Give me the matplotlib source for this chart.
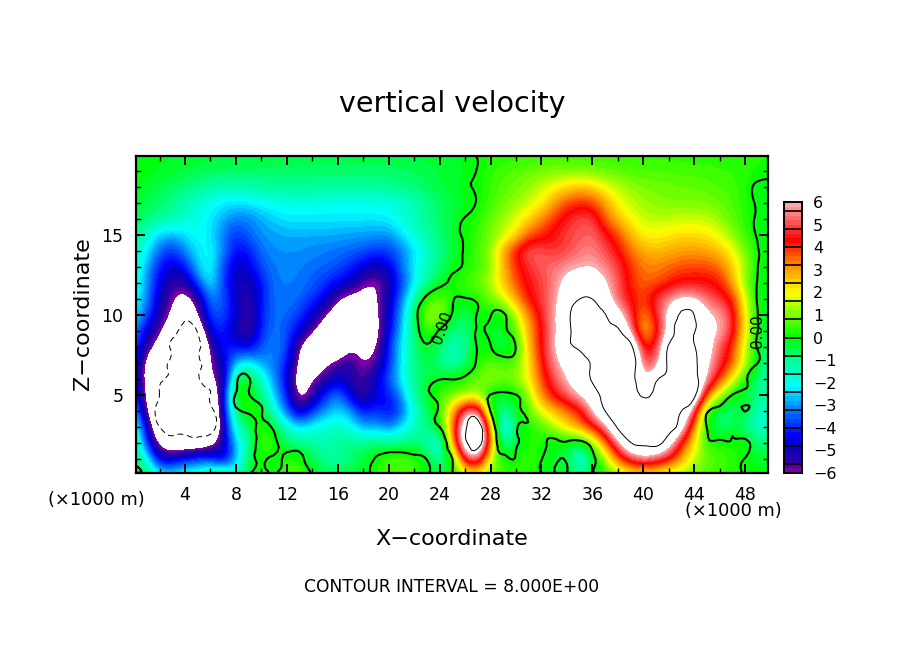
import matplotlib
matplotlib.use('Agg')
import matplotlib.pyplot as plt
import matplotlib.tri as mtri
import numpy as np
from matplotlib.colors import LinearSegmentedColormap, BoundaryNorm

# values, rows from z=20 down to z=0, columns x=0..50 km
x_km = np.arange(0, 51)
z_km = np.arange(20, -1, -1)
w_rows = [
    [-.1,-.1,-.1,-.2,-.2,-.2,-.3,-.3,-.3,-.3, -.3,-.3,-.3,-.4,-.4,-.4,-.4,-.4,-.4,-.4, -.4,-.4,-.4,-.3,-.3,-.2,-.2,.05,.2,.2, .3,.3,.4,.4,.4,.4,.4,.4,.4,.4, .3,.3,.3,.3,.3,.3,.3,.3,.2,.2, .2],
    [-.1,-.1,-.2,-.3,-.4,-.5,-.6,-.6,-.7,-.7, -.7,-.7,-.7,-.7,-.7,-.7,-.7,-.7,-.7,-.7, -.7,-.6,-.6,-.5,-.4,-.3,-.2,.05,.4,.5, .7,.8,.9,1,1,1,.9,.8,.7,.6, .6,.6,.6,.5,.5,.5,.4,.4,.3,.2, .2],
    [-.1,-.3,-.5,-.7,-.8,-1,-1.2,-1.3,-1.3,-1.2, -1.1,-1,-1,-1,-1,-1.1,-1.1,-1.1,-1.1,-1.1, -1,-.9,-.8,-.6,-.4,-.3,-.1,.1,.4,.7, .9,1.2,1.6,2,2.3,2.6,2.4,1.9,1.5,1.2, 1,.9,.9,.8,.8,.7,.6,.5,.2,-.1, -.2],
    [-.3,-.5,-.7,-1,-1.3,-1.7,-2,-2.3,-2.4,-2.3, -2.1,-2,-1.9,-1.9,-1.9,-2,-2,-2,-2,-2, -1.9,-1.7,-1.4,-1,-.7,-.5,-.2,.05,.5,.9, 1.2,1.6,2,3,3.8,4.1,3.9,3,2,1.5, 1.3,1.1,1,1,1,1,.8,.6,.3,-.1, -.3],
    [-.5,-.8,-1,-1.3,-1.6,-1.9,-2.3,-2.8,-3.2,-3.2, -2.8,-2.5,-2.3,-2.3,-2.3,-2.3,-2.3,-2.3,-2.3,-2.3, -2.2,-1.8,-1.5,-1,-.7,-.4,.05,.3,.8,1.3, 1.7,2.4,3.2,4,4.6,5,5,3.6,2.7,2, 1.5,1.5,1.5,1.6,1.6,1.5,1.2,.7,.3,-.1, -.3],
    [-.8,-1.7,-2.6,-2.7,-2.4,-2,-2.3,-3.2,-4,-3.4, -3,-2.9,-2.8,-2.8,-2.8,-2.8,-2.8,-2.9,-2.9,-3, -3,-2.4,-1.7,-1.2,-.8,-.3,.1,.4,1,1.4, 2.3,3.6,4,4.5,4.9,5.1,5.3,4.6,3.8,2.8, 2,2,2.2,2.3,2.3,2.2,1.8,1.2,.4,-.05, -.3],
    [-1.2,-2.2,-3.4,-4,-3,-2.3,-2,-3.1,-4.3,-4.2, -3.3,-3,-3,-3,-3.1,-3.2,-3.3,-3.4,-3.6,-3.8, -3.8,-3.2,-2.5,-1.6,-1,-.5,.1,.5,1.1,3, 4.4,5.3,5.1,4.7,4.9,5.4,5.6,5,4.4,3.4, 2.9,2.7,2.8,3,3,2.9,2.6,2,1,.05, -.2],
    [-1.3,-2.8,-4.2,-4.8,-4.2,-2.5,-1.9,-3.7,-4.9,-4.6, -3.6,-3.2,-3.1,-3.2,-3.3,-3.4,-3.6,-4,-4.6,-5.1, -4.7,-3.3,-2.2,-1.4,-.8,-.2,.1,.5,1,2.7, 4,4.7,5.2,5.4,5.8,5.9,6,5.6,4.9,4, 3.3,3.2,3.5,3.7,3.8,3.8,3.5,2.5,1.3,0, -.2],
    [-1.5,-3,-4.5,-5.4,-5.5,-3.6,-2,-3.8,-5,-5.2, -4.2,-3.2,-3.2,-3.2,-3.5,-3.9,-4.3,-4.8,-5.8,-6.2, -5.2,-3.8,-2.3,-1.1,-.3,.2,.6,.8,1.5,2.6, 3.7,4.5,4.8,5.6,6.4,7,7,6.2,5.2,4, 3.5,3.7,4,4.5,4.4,4.4,4.2,3,1,-.05, -.2],
    [-1.8,-3,-5,-5.9,-6.6,-5.6,-3,-3.5,-4.8,-5.6, -4.2,-3.3,-3.2,-3.4,-3.9,-4.4,-6.1,-6.5,-6.6,-6.2, -5,-3.2,-1.3,.4,1,.1,-.1,.2,.9,1.6, 3,4.3,4.9,5.6,7,8,8,6.7,5.2,4.3, 3.9,4.8,5.7,6.2,6.2,5.3,4.8,4.2,1.8,-.1, -.3],
    [-2.2,-3.5,-5.2,-6.2,-7.5,-6.1,-3.6,-3.6,-4.6,-5.7, -4,-3.3,-3.4,-3.8,-4.6,-6,-6.8,-7,-7,-6.4, -4.8,-2.8,-.6,1.4,1.3,-.1,-.8,.1,.05,-.2, 1.5,3.2,4.6,5.8,7.5,9,9,8.1,6.7,5, 2.9,4.5,6.5,8.3,8,6.3,5.9,4.8,2,0, -.5],
    [-2.8,-4.8,-5.8,-7,-9,-7.8,-4.3,-4,-5.2,-5.8, -4,-3.2,-3.6,-4.5,-5.8,-7,-7.5,-7.5,-7.4,-6.6, -4.5,-2.6,-.7,.5,-.1,-.9,-1,.1,-.3,-.3, .8,2.8,4.4,5.7,7.5,8.8,9.5,9,8.3,5.8, 2.4,3.8,6.4,9.5,8.2,6.3,6.2,4.7,2.2,0, -.8],
    [-3.3,-5.6,-6.5,-8.3,-8.8,-8.6,-5.7,-4,-4.3,-4.6, -3.5,-3,-3.6,-6,-7.5,-7.6,-7.4,-5.9,-6.5,-6.3, -4,-2.2,-.8,-.1,-.7,-1.5,-1.1,.1,.05,-.8, .05,2.6,4.4,5.9,7.5,8.3,9.5,10,10,8.8, 4,4.5,8.3,10,8.1,6.9,5,4,1.5,-.1, -1],
    [-4,-6.6,-7.4,-8.3,-8.7,-8.7,-5.8,-5,-2.5,-2, -3,-3.2,-4,-6.5,-7.5,-6.2,-5.6,-5.3,-6.1,-5.7, -4,-2.3,-.9,-.5,-.9,-1.5,-.9,.2,.8,.6, .7,2.2,4.1,5.7,6.5,7.3,8.2,9.5,10,9.5, 5,5,8.5,10,8.6,6.2,4.9,3.8,1.5,0, -1.6],
    [-4.2,-6.6,-7.6,-8.5,-8.8,-8.4,-6,-5.6,-.5,.2, -1.5,-3,-4.5,-7,-6,-5.4,-4.8,-5.1,-5.8,-4.7, -3.5,-2.1,-1,-.5,-.05,-.05,.3,1,1.2,1, 1.2,2,3.8,5,6.1,7,8.2,9.5,10.5,10, 5.5,7.5,9,10,9,5.8,4,2,.2,-.9, -1.6],
    [-3.5,-6.5,-8,-9.5,-10,-9.5,-8,-4.5,.2,.1, -1,-2.5,-4,-6.8,-5.5,-4,-3,-4.8,-5.8,-4.6, -4.2,-3,-1,-.2,.5,.9,1.2,1.2,-.1,-.4, -.05,1.2,3.3,4.4,5.3,6.2,7,8.8,10,10, 7.5,9,10,10,8.5,3.5,1.5,-.05,-.4,-.9, -1.2],
    [-2.2,-6.1,-8.5,-9,-10,-10,-9,-4.5,-.6,.4, .15,-1.8,-3.4,-5.2,-3.8,-3,-2.4,-2.8,-4.3,-3.8, -4.5,-3.6,-1.8,-.7,.3,2.8,5.5,6,-.1,-1, -.4,.8,1.8,2.7,3.3,4,6,8,10,10, 10,9.5,10,8,5.2,.3,-.7,-1,.05,-1.6, -1.5],
    [-1.2,-4.6,-8,-9,-9,-9.5,-9.3,-5,-1.5,-.8, .5,-.3,-1.5,-2.3,-2,-1.6,-1.5,-2,-2.8,-2.8, -3.2,-2.4,-1.4,-.9,0,3.2,7.5,9,3,-3.2, -.4,.2,.6,1.4,2.4,3.2,4.3,5.4,8.3,10, 10,10,9,7,3.2,-.05,-1,-.3,-1,-1.7, -1.5],
    [-.6,-3.8,-6.5,-7.3,-7.4,-7.3,-6.6,-5,-2.5,-1.2, .7,.4,-.8,-1,-1,-1.5,-1,-.8,-1,-.6, -1,-.8,-.8,-1.3,-2.5,3,7.5,9,3.5,-1.5, -.2,.2,.2,-.3,-.2,-.5,1,3.4,5.5,7.9, 8.3,8.5,6.8,4.1,2.2,.3,.2,.1,.3,-.8, -.8],
    [-.4,-1.8,-4.8,-4.8,-4,-3.7,-3.6,-5.2,-2.8,-.6, .2,-.3,.4,.4,-.6,-1,-1.4,-.8,-.4,.1, .7,.8,.5,-.05,-1.4,-.05,5,5.8,1.5,.1, .05,.5,.05,-.3,-.2,-2.5,-.6,1.2,3.6,5, 5.7,5.2,4.5,3,1.6,.9,.6,.4,-.05,-.3, -.3],
    [-.2,-.5,-1.8,-2,-1.5,-1.4,-.8,.2,-1.8,-.05, .3,-.1,.6,.6,-.05,-.5,-.4,-.3,-.2,.2, .6,.5,.4,-.05,-.4,.05,1.4,1.8,.9,.5, .4,.3,.1,-.2,-.2,-.8,-.3,.1,1,1.6, 1.8,1.6,1.2,1,.8,.5,.4,.3,0,-.1, -.1],
]
w = np.array(w_rows)

x_ticks = [4, 8, 12, 16, 20, 24, 28, 32, 36, 40, 44, 48]
z_ticks = [5, 10, 15]
bar_labels = ['6', '5', '4', '3', '2', '1', '0', '\u22121', '\u22122', '\u22123', '\u22124', '\u22125', '\u22126']
bar_values = [6, 5, 4, 3, 2, 1, 0, -1, -2, -3, -4, -5, -6]

plt.rcParams['font.family'] = 'DejaVu Sans'
W, H = 904, 654

# rainbow, -6 purple up to 6 pink
stops = [(-6, '#7a00a8'), (-5.6, '#3000a0'), (-4.8, '#0000c8'), (-4.4, '#0000ff'), (-3.2, '#0080ff'),
         (-2.2, '#00ffff'), (-1, '#00ff90'), (0, '#00ff00'), (1.2, '#90ff00'), (2, '#ffff00'),
         (3.2, '#ff9000'), (4.4, '#ff0000'), (5, '#ff4040'), (6, '#ffa8a8')]
cmap = LinearSegmentedColormap.from_list('w_bar', [((v + 6) / 12, c) for v, c in stops], N=60)
cmap.set_over('white')
cmap.set_under('white')
levels = np.linspace(-6, 6, 61)
norm = BoundaryNorm(levels, cmap.N)

fig = plt.figure(figsize=(W / 100, H / 100), dpi=100)
ax = fig.add_axes([136 / W, 1 - 473 / H, (768 - 136) / W, (473 - 156) / H])

ax.imshow(w, cmap=cmap, norm=norm, interpolation='bicubic', interpolation_stage='data',
          extent=(-0.5, 50.5, -0.5, 20.5), aspect='auto')

# cubic refinement so the contour lines follow the smoothed fill
xx, zz = np.meshgrid(x_km, z_km)
refiner = mtri.UniformTriRefiner(mtri.Triangulation(xx.ravel(), zz.ravel()))
fine_tri, fine_w = refiner.refine_field(w.ravel(), subdiv=2)
ax.tricontour(fine_tri, fine_w, levels=[0], colors='black', linewidths=1.5)
ax.tricontour(fine_tri, fine_w, levels=[8], colors='black', linewidths=0.7)
ax.tricontour(fine_tri, fine_w, levels=[-8], colors='black', linewidths=0.7, linestyles=[(0, (6, 4))])
ax.text(24.2, 9.2, '0.00', rotation=70, fontsize=11, ha='center', va='center')
ax.text(49.0, 9.0, '0.00', rotation=90, fontsize=11, ha='center', va='center')

ax.set_xlim(0.15, 49.8)
ax.set_ylim(0.125, 19.94)
ax.set_xticks(x_ticks)
ax.set_yticks(z_ticks)
ax.set_xticks(np.arange(2, 50, 4), minor=True)
ax.set_yticks(np.arange(1, 20), minor=True)
ax.tick_params(which='major', direction='in', length=6.5, width=1.4, top=True, right=True, labelsize=12.5, pad=9)
ax.tick_params(which='minor', direction='in', length=3.6, width=1, top=True, right=True)
for s in ax.spines.values():
    s.set_linewidth(1.6)

fig.text(452 / W, 1 - 104 / H, 'vertical velocity', fontsize=20.5, ha='center', va='center')
fig.text(452 / W, 1 - 539 / H, 'X\u2212coordinate', fontsize=16, ha='center', va='center')
fig.text(83 / W, 1 - 314 / H, 'Z\u2212coordinate', fontsize=16, rotation=90, ha='center', va='center')
fig.text(96 / W, 1 - 500 / H, '(\u00d71000 m)', fontsize=12.8, ha='center', va='center')
fig.text(733 / W, 1 - 511 / H, '(\u00d71000 m)', fontsize=12.8, ha='center', va='center')
fig.text(452 / W, 1 - 587 / H, 'CONTOUR INTERVAL = 8.000E+00', fontsize=12.3, ha='center', va='center')

# colour bar, with separators every 0.8
cax = fig.add_axes([784 / W, 1 - 473 / H, 18 / W, (473 - 202) / H])
cax.pcolormesh([0, 1], levels, levels[:-1, None] + 0.1, cmap=cmap, norm=norm)
cax.hlines(np.arange(-7, 8) * 0.8, 0, 1, colors='black', linewidth=1.2)
cax.set_xlim(0, 1)
cax.set_ylim(-6, 6)
cax.set_xticks([])
cax.yaxis.tick_right()
cax.set_yticks(bar_values)
cax.set_yticklabels(bar_labels, fontsize=11.5)
cax.tick_params(axis='y', length=0, pad=8)
for s in cax.spines.values():
    s.set_linewidth(1.4)

plt.savefig('out.png', dpi=100)
